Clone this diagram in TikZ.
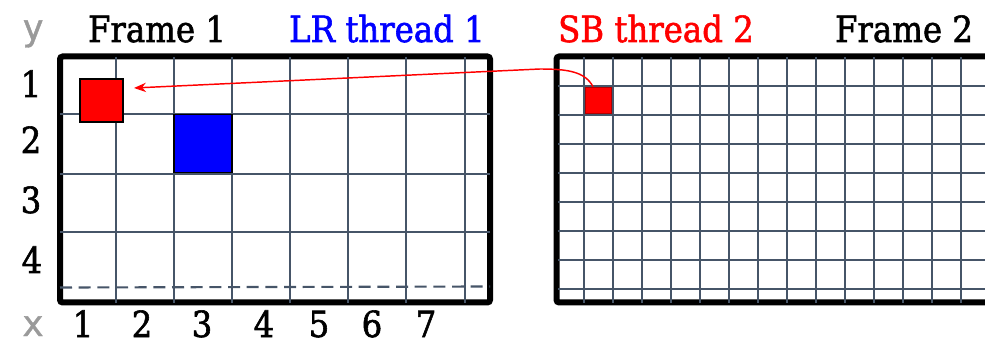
\documentclass[tikz,border=0pt]{standalone}
\usepackage{fontspec}
\setmainfont{DejaVu Serif Condensed}[RawFeature={embolden=1.6}]
\newfontfamily\graymono{DejaVu Sans Mono}[RawFeature={embolden=1.2}]
\usetikzlibrary{arrows.meta,calc}
\definecolor{gridc}{HTML}{465568}
\definecolor{labgray}{HTML}{9A9A9A}
\begin{document}
\begin{tikzpicture}[x=0.75pt,y=-0.75pt,
  gridline/.style={draw=gridc,line width=1.6pt},
  framebox/.style={draw=black,line width=4.5pt,rounded corners=2pt},
  lab/.style={font=\fontsize{27}{27}\selectfont,inner sep=0pt,anchor=base},
  axlab/.style={font=\graymono\fontsize{27}{27}\selectfont,text=labgray,inner sep=0pt,anchor=base},
  cell/.style={draw=black,line width=1pt,inner sep=0pt,minimum size=#1*0.75pt}]
\useasboundingbox (0,0) rectangle (985,345);
\clip (0,0) rectangle (985,345);
% frame 1
\draw[framebox] (60,56.5) rectangle (490,302.5);
\foreach \x in {116,174,232,290,348,406,465}
  \draw[gridline] (\x,57) -- (\x,303);
\foreach \y in {114,174,232}
  \draw[gridline] (60,\y) -- (490,\y);
\draw[gridline,dashed,dash pattern=on 9pt off 5pt] (60,287.5) -- (490,286.5);
\node[cell=43,fill=red] (lrcell) at (101.5,100.5) {};
\node[cell=58,fill=blue] (bluecell) at (203,143.5) {};
% frame 2
\draw[framebox] (556.5,56.5) rectangle (1000,302.5);
\foreach \k in {0,...,13}
  \draw[gridline] (584+29*\k,57) -- (584+29*\k,303);
\foreach \k in {0,...,7}
  \draw[gridline] (558,86+29*\k) -- (990,86+29*\k);
\node[inner sep=0pt,minimum size=26*0.75pt,fill=red,draw=red!70!black,line width=0.5pt] (sbcell) at (598,100) {};
% arrow
\coordinate (bend) at (540,69);
\coordinate (tip) at (134,88);
\draw[red,line width=1.1pt,-{Stealth[length=9pt,width=7pt]}]
  ($(sbcell.north)+(-5,0)$) .. controls +(-8,-15) and +(28,0) .. (bend) -- (tip);
% labels
\node[lab] (f1) at (157,42) {Frame 1};
\node[lab,text=blue] (lr) at (387,42) {LR thread 1};
\node[lab,text=red] (sb) at (656,42) {SB thread 2};
\node[lab] (f2) at (904,42) {Frame 2};
\node[axlab] (ylab) at (33,40) {y};
\node[axlab] (xlab) at (33,336) {x};
\node[lab] (r1) at (31,97) {1};
\node[lab] (r2) at (31,153) {2};
\node[lab] (r3) at (31,213) {3};
\node[lab] (r4) at (32,273) {4};
\foreach \n/\x in {1/83,2/142,3/202,4/264,5/319,6/372,7/426}
  \node[lab] (c\n) at (\x,337) {\n};
\end{tikzpicture}
\end{document}
